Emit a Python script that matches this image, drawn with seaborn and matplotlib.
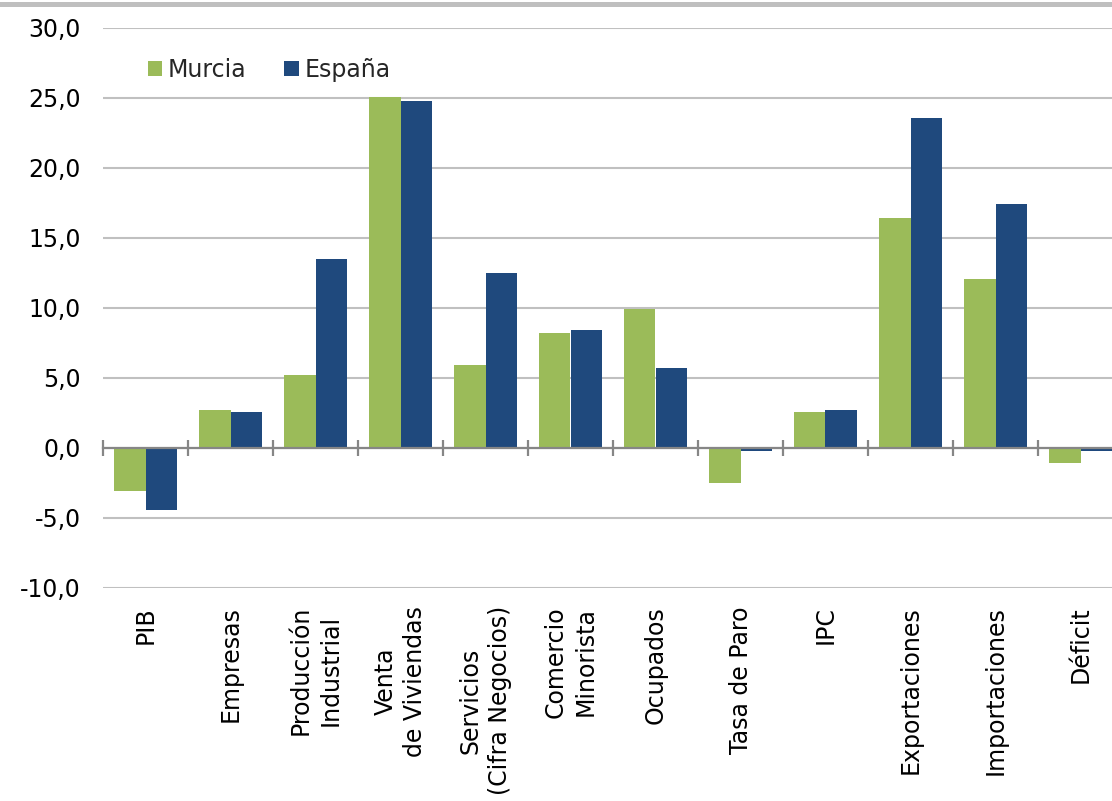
"""
Indicadores de coyuntura: Murcia frente a España (tasas de variación, %).
"""

import numpy as np
import pandas as pd
import matplotlib
matplotlib.use('Agg')
import matplotlib.pyplot as plt
import seaborn as sns
from matplotlib.patches import Rectangle
from matplotlib.ticker import FuncFormatter

# Datos
indicadores = [
    'PIB', 'Empresas', 'Producción\nIndustrial', 'Venta\nde Viviendas',
    'Servicios\n(Cifra Negocios)', 'Comercio\nMinorista', 'Ocupados',
    'Tasa de Paro', 'IPC', 'Exportaciones', 'Importaciones', 'Déficit'
]
murcia = [-3.1, 2.7, 5.2, 25.1, 5.9, 8.2, 9.9, -2.5, 2.6, 16.4, 12.1, -1.1]
espana = [-4.4, 2.6, 13.5, 24.8, 12.5, 8.4, 5.7, -0.2, 2.7, 23.6, 17.4, -0.2]
regiones = ['Murcia', 'España']
colores = ['#9BBB59', '#1F497D']
y_ticks = [-10, -5, 0, 5, 10, 15, 20, 25, 30]

df = pd.DataFrame({
    'indicador': indicadores * 2,
    'valor': murcia + espana,
    'region': [regiones[0]] * len(murcia) + [regiones[1]] * len(espana),
})

sns.set_theme(style='white')
plt.rcParams['font.family'] = ['DejaVu Sans']
plt.rcParams['font.size'] = 17

fig = plt.figure(figsize=(11.12, 8.01), dpi=100)
ax = fig.add_axes([103 / 1112, 1 - 588 / 801, 1020 / 1112, 560 / 801])

sns.barplot(
    data=df, x='indicador', y='valor', hue='region',
    palette=colores, width=0.73, gap=0, saturation=1,
    linewidth=0, ax=ax
)

# Ejes y rejilla
ax.set_xlim(-0.5, len(indicadores) - 0.5)
ax.set_ylim(-10, 30)
ax.set_yticks(y_ticks)
ax.yaxis.set_major_formatter(FuncFormatter(lambda v, p: f'{v:.1f}'.replace('.', ',')))
ax.set_axisbelow(True)
ax.yaxis.grid(True, color='#C0C0C0', linewidth=1.5)
ax.xaxis.grid(False)
for s in ax.spines.values():
    s.set_visible(False)
ax.set_xlabel('')
ax.set_ylabel('')
ax.tick_params(axis='y', length=0, pad=16, labelsize=17, colors='black')
ax.tick_params(axis='x', length=0, pad=13, labelsize=17, colors='black')
for lab in ax.get_xticklabels():
    lab.set_rotation(90)
    lab.set_ha('center')
    lab.set_va('top')
    lab.set_multialignment('center')
    lab.set_linespacing(1.3)

# Eje horizontal en el cero con marcas entre categorías
eje0 = ax.secondary_xaxis((0 - (-10)) / 40)
eje0.set_zorder(5)
eje0.set_xticks(np.arange(-0.5, len(indicadores), 1))
eje0.tick_params(direction='inout', length=12, width=1.6, color='#868686',
                 labelbottom=False, labeltop=False)
eje0.spines['bottom'].set_color('#868686')
eje0.spines['bottom'].set_linewidth(1.6)

# Leyenda
ax.legend(
    loc='center left', bbox_to_anchor=(0.044, (588 - 70) / 560),
    ncol=2, frameon=False, fontsize=17, handlelength=0.6, handleheight=0.6,
    handletextpad=0.25, columnspacing=1.6, borderpad=0, borderaxespad=0
)

# Franja gris superior (resto del título recortado)
fig.add_artist(Rectangle((0, 1 - 7 / 801), 1, 5 / 801, transform=fig.transFigure,
                         color='#BFBFBF', linewidth=0))

plt.savefig('out.png', dpi=100)
plt.close()
